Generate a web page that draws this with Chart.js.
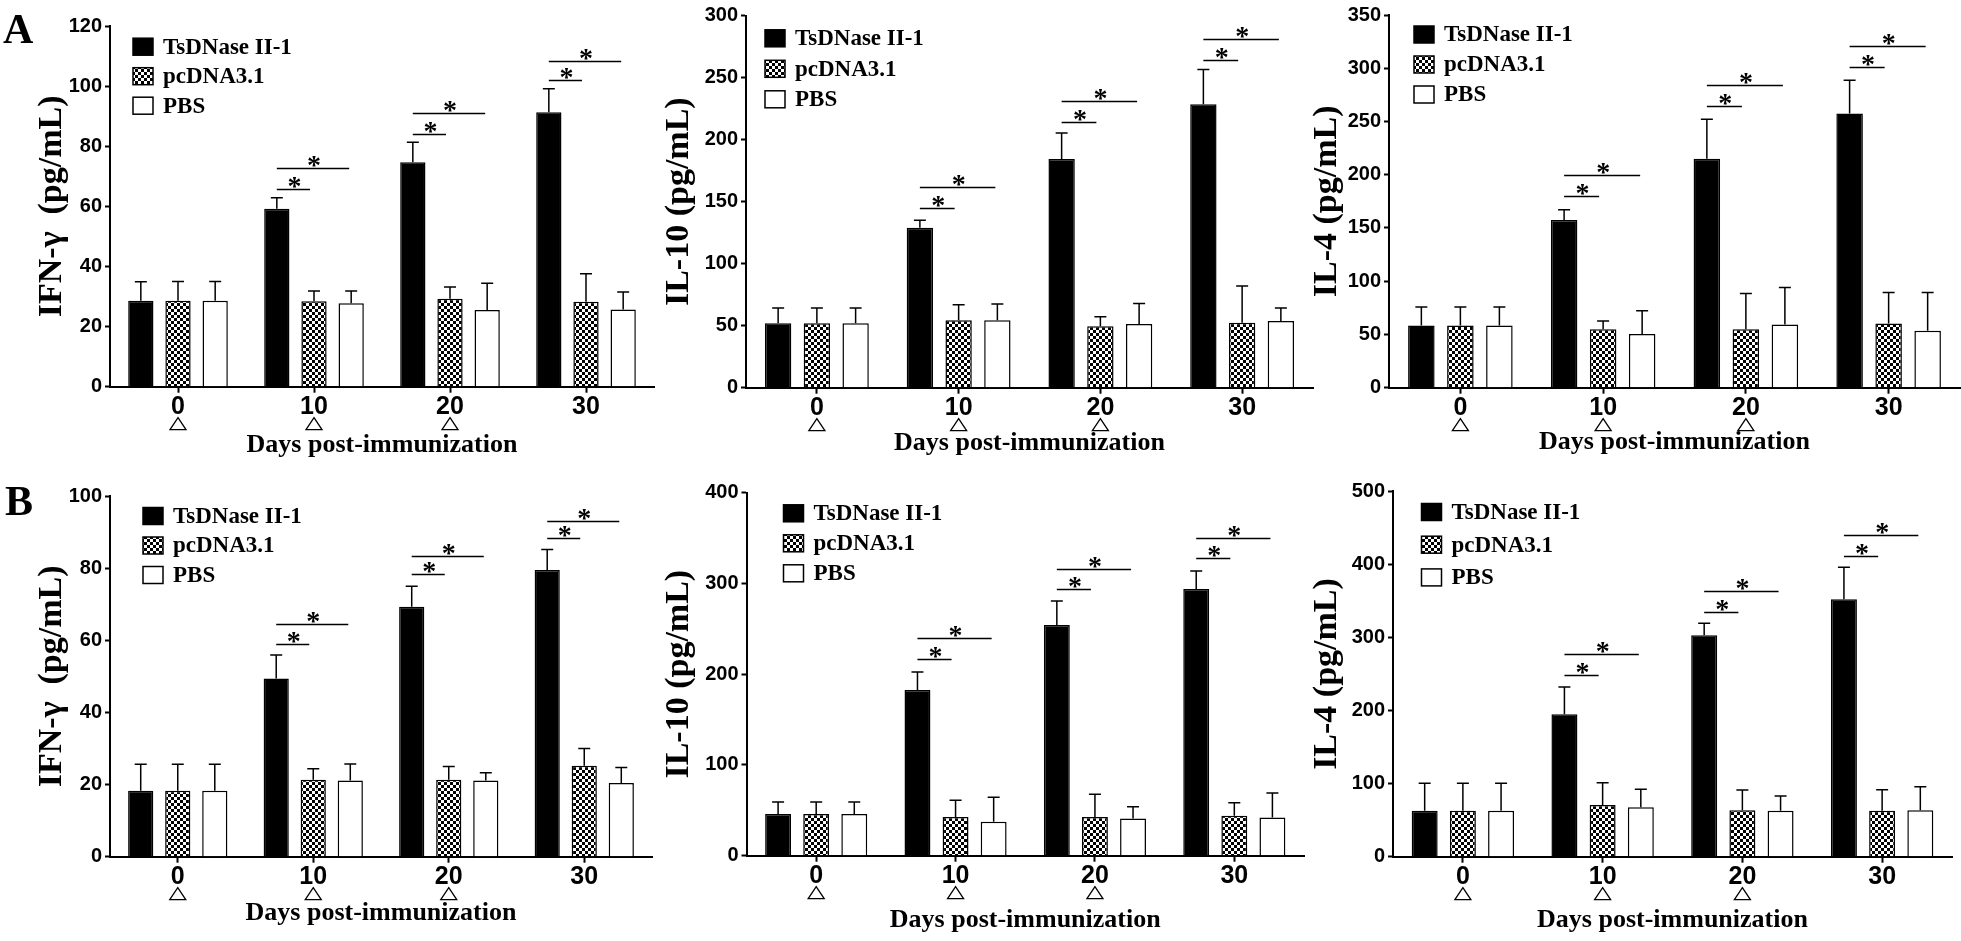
<!DOCTYPE html>
<html>
<head>
<meta charset="utf-8">
<script src="https://cdn.jsdelivr.net/npm/chart.js@4.4.1/dist/chart.umd.min.js"></script>
<style>
html, body { margin: 0; padding: 0; background: #fff; }
body { position: relative; width: 1961px; height: 941px; overflow: hidden; }
canvas { position: absolute; }
</style>
</head>
<body>
<canvas id="a1"></canvas>
<canvas id="a2"></canvas>
<canvas id="a3"></canvas>
<canvas id="b1"></canvas>
<canvas id="b2"></canvas>
<canvas id="b3"></canvas>
<script>
// categories
const days = ["0", "10", "20", "30"];
const boosted = [true, true, true, false];
const groups = ["TsDNase II-1", "pcDNA3.1", "PBS"];

// A panels: means [Ts, pc, PBS], upper error, significance bar levels [short, long] for days 10/20/30
const aIfnMean = [[28.6, 59.2, 74.7, 91.3], [28.6, 28.4, 29.3, 28.3], [28.6, 27.8, 25.5, 25.7]];
const aIfnErr = [[6.3, 3.7, 6.6, 7.8], [6.4, 3.4, 3.9, 9.3], [6.4, 4.0, 8.9, 5.8]];
const aIfnSig = [[65.9, 84.2, 102], [72.6, 90.9, 108.3]];

const aIl10Mean = [[51.9, 129, 184.4, 228.5], [51.9, 54.3, 49.5, 52.4], [51.9, 54.3, 51.3, 53.8]];
const aIl10Err = [[12.3, 6, 21, 28.2], [12.3, 12.6, 7.8, 29.6], [12.3, 13.2, 16.7, 10.4]];
const aIl10Sig = [[144.6, 214, 264], [161.8, 231, 281]];

const aIl4Mean = [[58.5, 157.6, 214.9, 257.4], [58.5, 55, 55, 60.4], [58.5, 50.4, 59.4, 53.5]];
const aIl4Err = [[17.2, 9.4, 37.2, 31.3], [17.2, 7.6, 33.5, 29.1], [17.2, 21.9, 34.8, 36]];
const aIl4Sig = [[180.2, 264.3, 301], [200.2, 284, 321]];

// B panels
const bIfnMean = [[18.3, 49.4, 69.3, 79.5], [18.3, 21.3, 21.3, 25.2], [18.3, 21.1, 21.1, 20.4]];
const bIfnErr = [[7.3, 6.5, 5.7, 5.7], [7.3, 3.1, 3.7, 4.8], [7.3, 4.6, 2.2, 4.3]];
const bIfnSig = [[59.1, 78.3, 88.4], [64.6, 83.4, 93.2]];

const bIl10Mean = [[45.9, 182.6, 254.2, 293.8], [45.9, 42.6, 42.6, 44.1], [45.9, 37.5, 41.1, 42.2]];
const bIl10Err = [[13.2, 19.8, 26.4, 19.9], [13.2, 18.4, 25, 14.3], [13.2, 26.8, 12.9, 26.8]];
const bIl10Sig = [[216.7, 294.2, 327.6], [239.5, 316.3, 350]];

const bIl4Mean = [[63, 194.8, 302.9, 352.2], [63, 70.7, 63.4, 63], [63, 67.5, 63, 63.4]];
const bIl4Err = [[37.4, 37.4, 16.4, 43.8], [37.4, 30.6, 27.8, 28.7], [37.4, 24.7, 20, 32.4]];
const bIl4Sig = [[249, 335.3, 411.5], [277, 364, 439.8]];

// checker fill for pcDNA3.1
function checker() {
	const c = document.createElement("canvas");
	c.width = 6; c.height = 6;
	const g = c.getContext("2d");
	g.fillStyle = "#fff"; g.fillRect(0, 0, 6, 6);
	g.fillStyle = "#000"; g.fillRect(0, 0, 3, 3); g.fillRect(3, 3, 3, 3);
	return g.createPattern(c, "repeat");
}
const fills = ["#000", checker(), "#fff"];

const errorBars = {
	id: "errorBars",
	afterDatasetsDraw(chart) {
		const ctx = chart.ctx, ys = chart.scales.y;
		ctx.save();
		ctx.strokeStyle = "#000";
		ctx.lineWidth = 1.5;
		chart.data.datasets.forEach(function(ds, i) {
			chart.getDatasetMeta(i).data.forEach(function(bar, j) {
				const top = ys.getPixelForValue(ds.data[j] + ds.err[j]);
				ctx.beginPath();
				ctx.moveTo(bar.x, bar.y);
				ctx.lineTo(bar.x, top);
				ctx.moveTo(bar.x - 6, top);
				ctx.lineTo(bar.x + 6, top);
				ctx.stroke();
			});
		});
		ctx.restore();
	}
};

const sigMarks = {
	id: "sigMarks",
	afterDatasetsDraw(chart, args, o) {
		const ctx = chart.ctx, ys = chart.scales.y;
		const m = [0, 1, 2].map(function(i) { return chart.getDatasetMeta(i).data; });
		ctx.save();
		ctx.strokeStyle = "#000";
		ctx.fillStyle = "#000";
		ctx.lineWidth = 1.5;
		ctx.font = "bold 28px 'Liberation Serif'";
		ctx.textAlign = "center";
		ctx.textBaseline = "alphabetic";
		const tm = ctx.measureText("*");
		const shift = (tm.actualBoundingBoxAscent - tm.actualBoundingBoxDescent) / 2;
		o.levels.forEach(function(lv, k) {
			lv.forEach(function(v, j) {
				const idx = j + 1;
				const x0 = m[0][idx].x;
				const x1 = k === 0 ? m[1][idx].x - 4 : m[2][idx].x - 2;
				const yy = Math.round(ys.getPixelForValue(v)) + 0.5;
				ctx.beginPath();
				ctx.moveTo(x0, yy);
				ctx.lineTo(x1, yy);
				ctx.stroke();
				ctx.fillText("*", (x0 + x1) / 2 + 1, yy - 7 + shift);
			});
		});
		ctx.restore();
	}
};

// open triangles under the immunization days
const boostMarks = {
	id: "boostMarks",
	afterDraw(chart) {
		const ctx = chart.ctx, xs = chart.scales.x;
		const y0 = xs.top + 31;
		ctx.save();
		ctx.strokeStyle = "#000";
		ctx.lineWidth = 1.3;
		boosted.forEach(function(on, i) {
			if (!on) return;
			const x = xs.getPixelForTick(i);
			ctx.beginPath();
			ctx.moveTo(x, y0);
			ctx.lineTo(x + 8, y0 + 12);
			ctx.lineTo(x - 8, y0 + 12);
			ctx.closePath();
			ctx.stroke();
		});
		ctx.restore();
	}
};

const keyBox = {
	id: "keyBox",
	afterDraw(chart, args, o) {
		const ctx = chart.ctx, a = chart.chartArea;
		ctx.save();
		ctx.font = "bold 23px 'Liberation Serif'";
		ctx.textBaseline = "middle";
		ctx.textAlign = "left";
		chart.data.datasets.forEach(function(ds, i) {
			const x = a.left + o.dx, y = a.top + o.dy + i * o.gap;
			ctx.fillStyle = ds.backgroundColor;
			ctx.fillRect(x, y - 8.5, 20, 17);
			ctx.strokeStyle = "#000";
			ctx.lineWidth = 1.5;
			ctx.strokeRect(x, y - 8.5, 20, 17);
			ctx.fillStyle = "#000";
			ctx.fillText(ds.label, x + 30, y + 1);
		});
		ctx.restore();
	}
};

const panelLetter = {
	id: "panelLetter",
	afterDraw(chart, args, o) {
		if (!o.text) return;
		const ctx = chart.ctx;
		ctx.save();
		ctx.font = "bold 42px 'Liberation Serif'";
		ctx.fillStyle = "#000";
		ctx.textBaseline = "alphabetic";
		ctx.fillText(o.text, o.x, o.y);
		ctx.restore();
	}
};

const panels = [
	{id: "a1", title: "IFN-\u03b3  (pg/mL)", max: 120, step: 20, mean: aIfnMean, err: aIfnErr, sig: aIfnSig,
	 box: [0, 0, 660, 470], area: [110, 26, 654, 386.7], yTitleX: 52, xTitleY: 445, key: [23, 20.7, 29.5], letter: ["A", 3, 43]},
	{id: "a2", title: "IL-10 (pg/mL)", max: 300, step: 50, mean: aIl10Mean, err: aIl10Err, sig: aIl10Sig,
	 box: [655, 0, 665, 470], area: [746, 15.7, 1313, 387.7], yTitleX: 679, xTitleY: 443, key: [19, 22.6, 30.5]},
	{id: "a3", title: "IL-4 (pg/mL)", max: 350, step: 50, mean: aIl4Mean, err: aIl4Err, sig: aIl4Sig,
	 box: [1305, 0, 656, 470], area: [1389, 14.7, 1960, 387.7], yTitleX: 1327, xTitleY: 442, key: [25, 19.5, 30]},
	{id: "b1", title: "IFN-\u03b3  (pg/mL)", max: 100, step: 20, mean: bIfnMean, err: bIfnErr, sig: bIfnSig,
	 box: [0, 470, 660, 471], area: [110, 496, 652, 856.7], yTitleX: 52, xTitleY: 913, key: [33, 20, 29.5], letter: ["B", 5, 515]},
	{id: "b2", title: "IL-10 (pg/mL)", max: 400, step: 100, mean: bIl10Mean, err: bIl10Err, sig: bIl10Sig,
	 box: [655, 470, 665, 471], area: [746.5, 492.7, 1304, 855.7], yTitleX: 679, xTitleY: 920, key: [37, 20.6, 30]},
	{id: "b3", title: "IL-4 (pg/mL)", max: 500, step: 100, mean: bIl4Mean, err: bIl4Err, sig: bIl4Sig,
	 box: [1305, 470, 656, 471], area: [1393, 491.3, 1952, 856.7], yTitleX: 1327, xTitleY: 920, key: [28.5, 20.7, 32.7]}
];

const sansBold = "'Liberation Sans Narrow', 'Liberation Sans', Arial, sans-serif";

panels.forEach(function(p) {
	const cx = p.box[0], cy = p.box[1], cw = p.box[2], ch = p.box[3];
	const l = p.area[0], t = p.area[1], r = p.area[2], b = p.area[3];
	const cv = document.getElementById(p.id);
	cv.width = cw; cv.height = ch;
	cv.style.left = cx + "px"; cv.style.top = cy + "px";
	cv.style.width = cw + "px"; cv.style.height = ch + "px";
	new Chart(cv.getContext("2d"), {
		type: "bar",
		data: {
			labels: days,
			datasets: groups.map(function(g, i) {
				return {
					label: g,
					data: p.mean[i],
					err: p.err[i],
					backgroundColor: fills[i],
					borderColor: "#000",
					borderWidth: 1.5,
					barPercentage: 0.68,
					categoryPercentage: 0.82
				};
			})
		},
		options: {
			responsive: false,
			animation: false,
			layout: {padding: {left: 0, top: t - cy, right: cx + cw - r, bottom: 0}},
			plugins: {
				legend: {display: false},
				tooltip: {enabled: false},
				sigMarks: {levels: p.sig},
				keyBox: {dx: p.key[0], dy: p.key[1], gap: p.key[2]},
				panelLetter: p.letter ? {text: p.letter[0], x: p.letter[1] - cx, y: p.letter[2] - cy} : {text: ""}
			},
			scales: {
				x: {
					ticks: {
						color: "#000",
						font: {family: sansBold, weight: "bold", size: 25, lineHeight: 1},
						padding: 2,
						maxRotation: 0,
						autoSkip: false
					},
					grid: {offset: false, drawOnChartArea: false, tickLength: 6, tickWidth: 2, tickColor: "#000"},
					border: {color: "#000", width: 2},
					title: {
						display: true,
						text: "Days post-immunization",
						color: "#000",
						font: {family: "'Liberation Serif', 'Times New Roman', serif", weight: "bold", size: 26, lineHeight: 1},
						padding: {top: 0, bottom: cy + ch - p.xTitleY - 13}
					},
					afterFit: function(s) { s.height = cy + ch - b; }
				},
				y: {
					min: 0,
					max: p.max,
					ticks: {stepSize: p.step, color: "#000", font: {family: "'Liberation Sans', Arial, sans-serif", weight: "bold", size: 20}, padding: 3},
					grid: {drawOnChartArea: false, tickLength: 5, tickWidth: 2, tickColor: "#000"},
					border: {color: "#000", width: 2},
					title: {
						display: true,
						text: p.title,
						color: "#000",
						font: {family: "'Liberation Serif', 'Times New Roman', serif", weight: "bold", size: 34, lineHeight: 1},
						padding: {top: p.yTitleX - cx - 17, bottom: 0}
					},
					afterFit: function(s) { s.width = l - cx; }
				}
			}
		},
		plugins: [errorBars, sigMarks, boostMarks, keyBox, panelLetter]
	});
});
</script>
</body>
</html>
